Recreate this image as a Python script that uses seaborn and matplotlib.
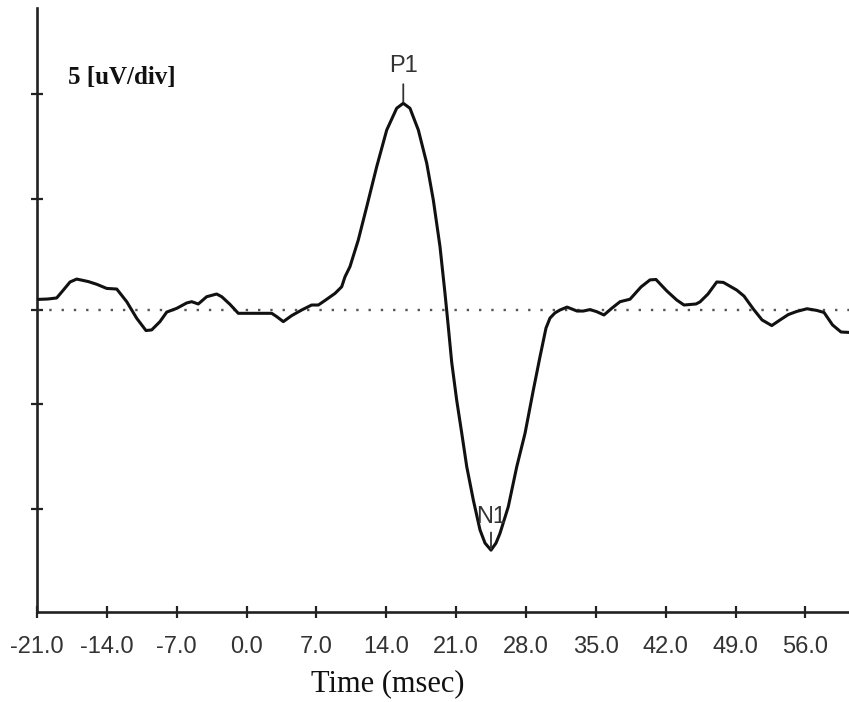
import matplotlib
matplotlib.use("Agg")
import matplotlib.pyplot as plt
import seaborn as sns
import pandas as pd
import numpy as np

# ---- data ----
time_ms = [-20.90, -19.90, -19.03, -18.36, -17.69, -17.02, -15.86, -15.02, -14.02, -13.01,
           -12.01, -11.01, -10.08, -9.51, -8.68, -8.00, -7.00, -6.00, -5.50, -4.84,
           -4.00, -3.00, -2.49, -1.66, -0.83, 2.52, 3.02, 3.68, 4.52, 5.52,
           6.52, 7.19, 7.86, 8.86, 9.53, 9.86, 10.36, 11.19, 12.04, 13.04,
           14.04, 15.04, 15.70, 16.37, 17.21, 18.05, 18.71, 19.38, 19.88, 20.21,
           20.55, 21.05, 21.56, 22.06, 22.72, 23.39, 23.89, 24.49, 24.99, 25.39,
           26.22, 27.07, 27.90, 28.73, 29.40, 30.00, 30.40, 30.90, 31.40, 32.11,
           33.11, 33.74, 34.41, 35.08, 35.81, 36.58, 37.42, 38.42, 39.52, 40.42,
           41.02, 42.10, 43.10, 43.83, 45.03, 45.43, 46.23, 47.11, 47.77, 49.11,
           49.84, 50.77, 51.65, 52.62, 53.45, 54.28, 55.12, 56.15, 57.13, 57.86,
           58.71, 59.56, 60.36]
amplitude_uv = [0.51, 0.53, 0.58, 0.96, 1.35, 1.49, 1.37, 1.24, 1.04, 1.01,
                0.40, -0.40, -0.99, -0.96, -0.56, -0.10, 0.08, 0.34, 0.40, 0.29,
                0.64, 0.77, 0.64, 0.27, -0.16, -0.16, -0.32, -0.56, -0.27, 0.00,
                0.24, 0.24, 0.46, 0.80, 1.12, 1.60, 2.09, 3.37, 4.98, 6.91,
                8.67, 9.72, 9.96, 9.72, 8.67, 7.07, 5.30, 3.05, 0.80, -0.80,
                -2.51, -4.34, -5.94, -7.55, -9.16, -10.60, -11.23, -11.57, -11.23, -10.76,
                -9.48, -7.55, -5.94, -3.86, -2.25, -0.87, -0.39, -0.14, 0.00, 0.14,
                -0.05, -0.05, 0.02, -0.08, -0.24, 0.08, 0.40, 0.52, 1.11, 1.45,
                1.47, 0.92, 0.48, 0.24, 0.29, 0.39, 0.77, 1.35, 1.33, 0.96,
                0.67, 0.05, -0.48, -0.75, -0.48, -0.22, -0.07, 0.06, -0.02, -0.12,
                -0.72, -1.06, -1.08]

x_ticks = [-21.0, -14.0, -7.0, 0.0, 7.0, 14.0, 21.0, 28.0, 35.0, 42.0, 49.0, 56.0]
x_tick_labels = [f"{v:.1f}" for v in x_ticks]
y_ticks = [-9.6, -4.55, 0.0, 5.35, 10.4]
scale_label = "5 [uV/div]"
x_label = "Time (msec)"
peak_labels = ["P1", "N1"]

df = pd.DataFrame({"time": time_ms, "amp": amplitude_uv})

sns.set_theme(style="white")
plt.rcParams["font.family"] = ["Liberation Sans", "DejaVu Sans"]

fig = plt.figure(figsize=(8.49, 7.02), dpi=100)
ax = fig.add_axes([37 / 849, (702 - 612) / 702, 812 / 849, 604 / 702])

ax.axhline(0, color="#555555", linewidth=1.7, linestyle=(0, (1, 4.2)), zorder=1)
sns.lineplot(data=df, x="time", y="amp", ax=ax, color="#111111", linewidth=2.2,
             errorbar=None, zorder=3)

ax.set_xlim(-21.0, 60.36)
ax.set_ylim(-14.55, 14.55)
ax.set_xticks(x_ticks)
ax.set_xticklabels(x_tick_labels)
ax.set_yticks(y_ticks)
ax.set_yticklabels([])

for s in ["top", "right"]:
    ax.spines[s].set_visible(False)
for s in ["left", "bottom"]:
    ax.spines[s].set_color("#222222")
    ax.spines[s].set_linewidth(1.9)

ax.tick_params(axis="both", which="major", bottom=True, left=True, direction="inout",
               length=9, width=1.6, color="#222222")
ax.tick_params(axis="x", labelsize=17, labelcolor="#333333", pad=13)
ax.set_xlabel(x_label, family="Liberation Serif", fontsize=22, color="#111111")
ax.xaxis.set_label_coords((388 - 37) / 812, -(684 - 612) / 604)
ax.xaxis.label.set_va("center")
ax.set_ylabel("")

ax.text(0.038, 0.885, scale_label, transform=ax.transAxes, family="Liberation Serif",
        fontweight="bold", fontsize=18, color="#111111", va="center", ha="left")

amp = np.array(amplitude_uv)
t = np.array(time_ms)
ip = int(np.argmax(amp))
im = int(np.argmin(amp))
ax.annotate(peak_labels[0], xy=(t[ip], amp[ip]), xytext=(0, 27), textcoords="offset points",
            ha="center", va="center", fontsize=17, color="#333333",
            arrowprops=dict(arrowstyle="-", color="#333333", lw=1.3, shrinkA=3, shrinkB=1))
ax.annotate(peak_labels[1], xy=(t[im], amp[im]), xytext=(0, 24), textcoords="offset points",
            ha="center", va="center", fontsize=17, color="#333333",
            arrowprops=dict(arrowstyle="-", color="#333333", lw=1.3, shrinkA=1, shrinkB=1))

fig.savefig("out.png", dpi=100)
